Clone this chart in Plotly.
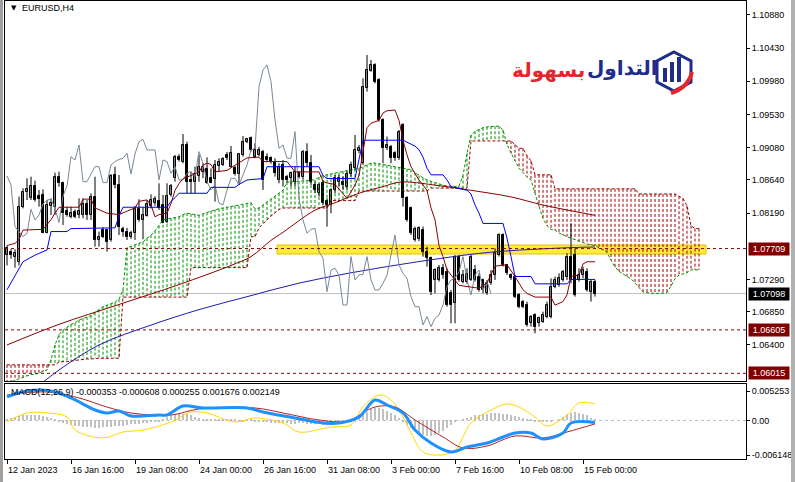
import plotly.graph_objects as go

# ---------------- data ----------------
bars = list(range(148))
opens = [1.07622,1.07667,1.07600,1.07520,1.08278,1.08482,1.08391,1.08558,1.08423,1.08436,
         1.07925,1.08287,1.08278,1.08676,1.08604,1.08219,1.08142,1.08210,1.08165,1.08165,
         1.08314,1.08165,1.08414,1.07826,1.07961,1.07961,1.07826,1.08708,1.08572,1.07970,
         1.07939,1.07871,1.07916,1.08242,1.08097,1.08151,1.08287,1.08323,1.08355,1.08300,
         1.08074,1.08436,1.08663,1.08957,1.08889,1.09115,1.08640,1.08617,1.08694,1.08753,
         1.08785,1.08663,1.08649,1.08830,1.08844,1.08980,1.08821,1.08798,1.08721,1.08980,
         1.09160,1.09206,1.08957,1.08980,1.09025,1.08957,1.08935,1.08889,1.08641,1.08844,
         1.08686,1.08663,1.08618,1.08731,1.08686,1.09025,1.08867,1.08573,1.08460,1.08595,
         1.08360,1.08301,1.08505,1.08618,1.08618,1.08550,1.08722,1.08799,1.09039,1.08867,
         1.09885,1.10125,1.10202,1.09998,1.09455,1.09070,1.09093,1.09003,1.08935,1.09387,
         1.08392,1.08256,1.07826,1.07840,1.07961,1.07667,1.07577,1.07283,1.07283,1.07441,
         1.07396,1.07102,1.06966,1.07599,1.07260,1.07260,1.07283,1.07418,1.07328,1.07283,
         1.07101,1.07237,1.07350,1.07622,1.07893,1.07486,1.07350,1.07328,1.07079,1.06989,
         1.06943,1.06694,1.06807,1.06694,1.06717,1.06785,1.06785,1.07192,1.07215,1.07283,
         1.07328,1.07599,1.07622,1.07283,1.07350,1.07396,1.07124,1.07260]
highs = [1.07749,1.07700,1.07700,1.08414,1.08527,1.08663,1.08685,1.08631,1.08504,1.08513,
         1.08368,1.08391,1.08740,1.08753,1.08617,1.08278,1.08278,1.08240,1.08391,1.08391,
         1.08368,1.08459,1.08685,1.07939,1.08000,1.07970,1.08721,1.08821,1.08708,1.08006,
         1.07990,1.07950,1.08287,1.08378,1.08269,1.08368,1.08445,1.08420,1.08595,1.08436,
         1.08595,1.08586,1.08980,1.08990,1.09264,1.09160,1.08753,1.08821,1.08980,1.08866,
         1.08948,1.08798,1.08911,1.08934,1.08950,1.09020,1.09101,1.08830,1.08993,1.09237,
         1.09210,1.09229,1.09138,1.09090,1.09048,1.09003,1.08960,1.08935,1.08867,1.08912,
         1.08710,1.08754,1.08822,1.08760,1.09048,1.09138,1.08980,1.08618,1.08595,1.08641,
         1.08392,1.08527,1.08708,1.08708,1.08686,1.08754,1.08889,1.09251,1.09116,1.10021,
         1.10337,1.10270,1.10224,1.10021,1.09478,1.09229,1.09116,1.09030,1.09319,1.09410,
         1.08420,1.08279,1.08007,1.08010,1.08007,1.07735,1.07600,1.07441,1.07486,1.07500,
         1.07441,1.07147,1.07622,1.07622,1.07418,1.07441,1.07622,1.07486,1.07373,1.07300,
         1.07283,1.07418,1.07712,1.07916,1.07916,1.07500,1.07373,1.07350,1.07101,1.07011,
         1.06989,1.06807,1.06830,1.06785,1.06853,1.06989,1.07305,1.07328,1.07373,1.07418,
         1.07645,1.08052,1.07712,1.07441,1.07464,1.07441,1.07283,1.07283]
lows = [1.07480,1.07570,1.07450,1.07480,1.08255,1.08368,1.08368,1.08346,1.08278,1.07916,
        1.07916,1.08165,1.08165,1.08549,1.08029,1.08142,1.08120,1.08120,1.08120,1.08120,
        1.08097,1.08097,1.07735,1.07735,1.07850,1.07667,1.07803,1.08527,1.07893,1.07871,
        1.07826,1.07840,1.07826,1.08074,1.07835,1.08142,1.08255,1.08290,1.08233,1.08052,
        1.08052,1.08414,1.08617,1.08890,1.08866,1.08459,1.08459,1.08459,1.08617,1.08663,
        1.08586,1.08595,1.08346,1.08753,1.08830,1.08911,1.08810,1.08700,1.08572,1.08957,
        1.09140,1.09025,1.08935,1.08960,1.08505,1.08880,1.08860,1.08686,1.08595,1.08550,
        1.08610,1.08550,1.08550,1.08660,1.08641,1.08822,1.08573,1.08460,1.08414,1.08301,
        1.08007,1.08188,1.08460,1.08550,1.08505,1.08505,1.08686,1.08776,1.09003,1.08844,
        1.09840,1.10110,1.09953,1.09432,1.08867,1.09048,1.08867,1.08900,1.08912,1.08279,
        1.08075,1.07894,1.07803,1.07810,1.07599,1.07464,1.07079,1.07101,1.07260,1.07300,
        1.06920,1.06694,1.06694,1.07260,1.07237,1.07230,1.07270,1.07260,1.07124,1.07101,
        1.07079,1.07215,1.07283,1.07600,1.07464,1.07350,1.07283,1.07034,1.06898,1.06900,
        1.06649,1.06649,1.06558,1.06649,1.06700,1.06762,1.06762,1.07170,1.07190,1.07260,
        1.07283,1.07237,1.07056,1.07260,1.07305,1.07124,1.06989,1.07056]
closes = [1.07721,1.07622,1.07650,1.08278,1.08482,1.08513,1.08558,1.08368,1.08378,1.07925,
          1.08300,1.08332,1.08676,1.08595,1.08187,1.08165,1.08187,1.08142,1.08219,1.08314,
          1.08165,1.08414,1.07826,1.07871,1.07871,1.07803,1.08694,1.08572,1.08006,1.07939,
          1.07871,1.07916,1.08242,1.08097,1.08165,1.08314,1.08368,1.08378,1.08255,1.08061,
          1.08423,1.08558,1.08957,1.08911,1.09115,1.08617,1.08617,1.08721,1.08821,1.08821,
          1.08604,1.08604,1.08844,1.08889,1.08920,1.08934,1.09002,1.08721,1.08993,1.09160,
          1.09192,1.09048,1.09048,1.09048,1.08641,1.08912,1.08889,1.08731,1.08822,1.08641,
          1.08641,1.08731,1.08754,1.08686,1.09025,1.08867,1.08618,1.08505,1.08573,1.08324,
          1.08301,1.08505,1.08663,1.08663,1.08573,1.08722,1.08844,1.09048,1.09070,1.09907,
          1.10134,1.10202,1.09975,1.09455,1.09070,1.09116,1.08935,1.08935,1.09297,1.08392,
          1.08097,1.07917,1.07970,1.07984,1.07667,1.07577,1.07124,1.07418,1.07441,1.07350,
          1.06943,1.06943,1.07599,1.07283,1.07350,1.07360,1.07599,1.07283,1.07147,1.07147,
          1.07237,1.07350,1.07645,1.07893,1.07486,1.07373,1.07305,1.07056,1.06920,1.06920,
          1.06672,1.06785,1.06649,1.06762,1.06807,1.06943,1.07192,1.07283,1.07305,1.07396,
          1.07599,1.07283,1.07079,1.07350,1.07418,1.07147,1.07260,1.07098]

# Ichimoku: Tenkan-sen / Kijun-sen (bar, price)
tenkan_x = [0,2,3,4,9,11,12,13,18,19,21,22,25,27,28,31,32,33,35,36,37,38,40,41,42,43,44,46,47,48,
            49,50,51,52,55,56,57,60,63,64,70,71,72,78,79,80,82,85,86,87,88,89,90,91,93,94,95,97,98,99,
            100,101,103,105,106,107,108,109,110,111,112,113,118,120,122,125,127,129,130,132,136,137,139,140,141,
            143,144,145,147]
tenkan_y = [1.0775,1.0778,1.0783,1.0796,1.0797,1.0810,1.0819,1.0827,1.0827,1.0838,1.0838,1.0826,1.0819,1.0817,1.0817,
            1.0824,1.0826,1.0835,1.0837,1.0830,1.0814,1.0817,1.0819,1.0832,1.0850,1.0859,1.0866,1.0870,1.0872,1.0875,
            1.0884,1.0887,1.0885,1.0875,1.0877,1.0880,1.0884,1.0894,1.0895,1.0889,1.0889,1.0882,1.0875,1.0875,1.0862,
            1.0860,1.0858,1.0839,1.0848,1.0857,1.0870,1.0900,1.0935,1.0941,1.0945,1.0955,1.0958,1.0959,1.0945,1.0918,
            1.0898,1.0882,1.0864,1.0850,1.0826,1.0810,1.0775,1.0760,1.0742,1.0735,1.0728,1.0721,1.0717,1.0724,1.0747,
            1.0749,1.0733,1.0715,1.0710,1.0705,1.0705,1.0694,1.0699,1.0708,1.0733,1.0735,1.0750,1.0753,1.0753]
kijun_x = [0,4,7,10,11,15,16,27,28,29,40,41,42,43,50,51,57,58,60,64,65,78,79,80,87,88,89,99,100,101,
           102,103,104,105,106,109,110,111,115,116,117,118,119,124,125,126,127,131,132,140,141,147]
kijun_y = [1.0715,1.0753,1.0762,1.0769,1.0794,1.0794,1.0798,1.0799,1.0815,1.0827,1.0827,1.0835,1.0840,1.0846,1.0846,
           1.0854,1.0854,1.0858,1.0864,1.0866,1.0882,1.0882,1.0870,1.0866,1.0866,1.0890,1.0918,1.0918,1.0915,1.0912,
           1.0910,1.0905,1.0895,1.0880,1.0871,1.0871,1.0864,1.0855,1.0850,1.0845,1.0830,1.0819,1.0805,1.0805,1.0785,
           1.0760,1.0733,1.0733,1.0723,1.0723,1.0729,1.0729]

# Senkou spans (one value per bar 0..173, already shifted forward)
senkou_a = [1.0590,1.0590,1.0592,1.0594,1.0596,1.0598,1.0600,1.0600,1.0602,1.0604,
            1.0606,1.0620,1.0640,
            1.0654,1.0660,1.0664,1.0668,1.0670,
            1.0674,1.0676,1.0678,1.0680,1.0684,1.0688,1.0692,1.0694,1.0696,1.0698,1.0702,
            1.0715,
            1.0772,1.0774,1.0776,1.0778,1.0780,1.0785,1.0789,1.0795,1.0802,1.0810,
            1.0811,1.0812,1.0813,1.0814,1.0817,1.0819,1.0818,1.0817,1.0816,1.0818,
            1.0820,1.0822,1.0824,1.0825,1.0826,1.0827,1.0828,1.0829,1.0829,1.0830,1.0831,
            1.0833,1.0825,1.0826,1.0830,1.0834,1.0838,1.0842,1.0846,1.0850,
            1.0861,1.0862,1.0862,1.0862,1.0863,1.0863,1.0864,1.0864,
            1.0868,1.0870,1.0871,1.0872,1.0873,1.0874,1.0876,1.0877,
            1.0878,1.0879,1.0880,1.0882,1.0885,1.0887,
            1.0887,1.0886,1.0885,1.0884,
            1.0883,1.0882,1.0881,1.0880,1.0879,1.0878,
            1.0874,1.0870,1.0867,1.0864,1.0862,
            1.0860,1.0858,1.0857,1.0856,1.0855,1.0855,1.0856,
            1.0870,1.0900,1.0925,1.0930,1.0933,1.0935,1.0936,1.0937,1.0937,1.0937,1.0932,
            1.0912,1.0900,1.0890,1.0880,1.0874,1.0868,
            1.0864,1.0845,1.0828,1.0812,1.0802,1.0797,
            1.0796,1.0792,1.0789,1.0787,1.0785,1.0783,1.0780,1.0778,1.0777,1.0776,1.0775,
            1.0772,1.0769,1.0766,1.0755,1.0746,1.0740,1.0736,1.0733,1.0730,1.0724,1.0718,1.0712,
            1.0711,1.0710,1.0710,1.0710,1.0710,1.0711,1.0720,
            1.0730,1.0735,1.0737,1.0738,1.0742,1.0742,1.0742]
senkou_b = ([1.0613] * 13 +
            [1.0617,1.0617,1.0618,1.0618,1.0619,1.0620,1.0620,1.0621,1.0621,1.0622,1.0622,1.0622,1.0622,1.0622,1.0622,1.0622] +
            [1.0705] * 17 + [1.0745] * 15 +
            [1.0787,1.0787] + [1.0799,1.0805,1.0810,1.0815,1.0820,1.0824] +
            [1.0826] * 12 + [1.0836] * 7 + [1.0849] * 18 + [1.0853] * 10 +
            [1.0917] * 11 + [1.0912,1.0907,1.0907,1.0897,1.0890] + [1.0871] * 5 +
            [1.0852] * 21 + [1.0845] * 10 + [1.0842,1.0839,1.0829,1.0802,1.0798,1.0798])

# moving averages (bar, price)
ma_red_x = [0,13,28,43,56,61,66,69,77,82,88,94,98,101,107,116,126,134,147]
ma_red_y = [1.0640,1.0668,1.0695,1.0722,1.0748,1.0760,1.0782,1.0793,1.0823,1.0833,1.0846,1.0855,1.0861,1.0861,
            1.0857,1.0850,1.0841,1.0830,1.0816]
ma_blue_x = [8,13,23,36,48,61,73,86,98,109,121,140,147]
ma_blue_y = [1.0585,1.0606,1.0640,1.0667,1.0688,1.0707,1.0724,1.0738,1.0749,1.0758,1.0766,1.0772,1.0773]

# MACD panel
macd_x = [0,5,11,16,22,25,28,31,38,40,44,49,60,64,72,79,83,88,92,95,99,102,106,111,115,120,124,127,131,134,139,141,147]
macd_v = [0.00419,0.00525,0.00525,0.00401,0.00187,0.00134,0.00169,0.00080,0.00098,0.00098,0.00258,0.00223,0.00223,
          0.00151,0.00045,-0.00045,-0.00045,0.00062,0.00365,0.00276,0.00134,-0.00169,-0.00401,-0.00561,-0.00472,
          -0.00401,-0.00294,-0.00223,-0.00223,-0.00329,-0.00223,-0.00045,-0.000353]
signal_x = [0,10,18,25,31,41,48,62,69,78,85,92,97,102,109,114,120,127,134,140,147]
signal_v = [0.00454,0.00508,0.00401,0.00240,0.00134,0.00098,0.00205,0.00223,0.00134,0.00009,-0.00009,0.00240,
            0.00240,0.00009,-0.00294,-0.00490,-0.00454,-0.00276,-0.00312,-0.00205,-0.000608]
yellow_x = [0,5,10,15,17,24,29,34,41,46,50,57,62,69,73,81,86,89,93,96,99,101,104,108,112,116,121,125,128,132,135,140,143,147]
yellow_v = [-0.00027,0.00134,0.00134,0.00062,-0.00169,-0.00312,-0.00205,-0.00169,-0.00027,0.00151,0.00134,-0.00027,
            0.00045,-0.00045,-0.00205,-0.00116,-0.00080,0.00240,0.00454,0.00365,0.00062,-0.00223,-0.00561,-0.00615,
            -0.00526,-0.00045,0.00187,0.00294,0.00240,0.00062,-0.00098,0.00098,0.00312,0.00294]
hist = ([0.0002,0.0004] +
        [0.0006,0.0008,0.0009,0.0010,0.0010,0.0009,0.0009,0.0008,0.0007,0.0005,0.0003] +
        [-0.0002,-0.0004,-0.0006,-0.0008,-0.0009,-0.0010,-0.0011,-0.0012,-0.0012,-0.0013,-0.0013,-0.0012,-0.0012,
         -0.0011,-0.0010,-0.0010,-0.0009,-0.0008,-0.0007,-0.0007,-0.0006,-0.0005,-0.0004,-0.0003,-0.0002,-0.0001] +
        [0.0003,0.0006,0.0009,0.0011,0.0012,0.0012,0.0011,0.0009,0.0007,0.0004] +
        [0.0002,0.0001,0.0001,0.0002,0.0002,0.0001,0.0001,0.0002,0.0001,-0.0001,-0.0001,0.0001,0.0001,-0.0001,-0.0002,-0.0002] +
        [-0.0003,-0.0004,-0.0004,-0.0005,-0.0005,-0.0005,-0.0006,-0.0006,-0.0005,-0.0005,-0.0006] +
        [-0.0006,-0.0007,-0.0007,-0.0008,-0.0008,-0.0008,-0.0007,-0.0007,-0.0006,-0.0005,-0.0003,-0.0001] +
        [0.0004,0.0010,0.0016,0.0021,0.0023,0.0022,0.0020,0.0017,0.0013,0.0009,0.0004] +
        [-0.0002,-0.0008,-0.0014,-0.0019,-0.0023,-0.0026,-0.0027,-0.0027,-0.0025,-0.0022,-0.0018,-0.0013,-0.0008] +
        [-0.0003,0.0000,0.0003] +
        [0.0005,0.0007,0.0009,0.0010,0.0011,0.0012,0.0013,0.0013,0.0013,0.0012,0.0011,0.0010,0.0008,0.0007,0.0005,0.0003,0.0001] +
        [-0.0001,-0.0002,-0.0003,-0.0003,-0.0002,0.0000] +
        [0.0003,0.0007,0.0011,0.0014,0.0015,0.0014,0.0012,0.0009,0.0005,0.000255])

macd_label = "MACD(12,26,9) -0.000353 -0.000608 0.000255 0.001676 0.002149"

price_ticks = [1.10880,1.10430,1.09980,1.09530,1.09080,1.08640,1.08190,1.07290,1.06850,1.06400]
red_levels = [1.07709, 1.06605, 1.06015]
bid_level = 1.07098
zone_low, zone_high = 1.07635, 1.07757
zone_start, zone_end = 67.5, 174.75

date_ticks = [0,16,32,48,64,80,96,112,128,144]
date_labels = ["12 Jan 2023","16 Jan 16:00","19 Jan 08:00","24 Jan 00:00","26 Jan 16:00",
               "31 Jan 08:00","3 Feb 00:00","7 Feb 16:00","10 Feb 08:00","15 Feb 00:00"]

# ---------------- layout helpers ----------------
W, H = 795, 482
ML, MR, MT, MB = 5, 49, 1, 23
PW, PH = W - ML - MR, H - MT - MB
def px(x): return (x - ML) / PW
def py(y): return 1 - (y - MT) / PH

DARKRED = '#8B0000'
FONT = 'Liberation Sans'

fig = go.Figure()

# cloud hatch
gx, gy, rx, ry = [], [], [], []
for b, (a, s) in enumerate(zip(senkou_a, senkou_b)):
    if a >= s:
        gx += [b, b, None]; gy += [a, s, None]
    else:
        rx += [b, b, None]; ry += [s, a, None]
fig.add_trace(go.Scatter(x=gx, y=gy, mode='lines', line=dict(color='#009000', width=1, dash='3px,2px'), hoverinfo='skip'))
fig.add_trace(go.Scatter(x=rx, y=ry, mode='lines', line=dict(color='#A00000', width=1, dash='3px,2px'), hoverinfo='skip'))
cloud_x = list(range(len(senkou_a)))
fig.add_trace(go.Scatter(x=cloud_x, y=senkou_a, mode='lines', line=dict(color='#009000', width=1, dash='3px,2px')))
fig.add_trace(go.Scatter(x=cloud_x, y=senkou_b, mode='lines', line=dict(color='#A00000', width=1, dash='3px,2px')))

# candles
wx, wy = [], []
for b, h, l in zip(bars, highs, lows):
    wx += [b, b, None]; wy += [l, h, None]
fig.add_trace(go.Scatter(x=wx, y=wy, mode='lines', line=dict(color='black', width=1), hoverinfo='skip'))
body_base = [min(o, c) for o, c in zip(opens, closes)]
body_h = [max(abs(c - o), 0.00002) for o, c in zip(opens, closes)]
body_col = ['white' if c >= o else 'black' for o, c in zip(opens, closes)]
fig.add_trace(go.Bar(x=bars, y=body_h, base=body_base, width=0.55,
                     marker=dict(color=body_col, line=dict(color='black', width=1))))

# indicator lines
fig.add_trace(go.Scatter(x=ma_red_x, y=ma_red_y, mode='lines', line=dict(color=DARKRED, width=1, shape='spline')))
fig.add_trace(go.Scatter(x=ma_blue_x, y=ma_blue_y, mode='lines', line=dict(color='#1C1CB4', width=1, shape='spline')))
fig.add_trace(go.Scatter(x=bars[:len(closes) - 26], y=closes[26:], mode='lines', line=dict(color='#778899', width=1)))
fig.add_trace(go.Scatter(x=tenkan_x, y=tenkan_y, mode='lines', line=dict(color=DARKRED, width=1)))
fig.add_trace(go.Scatter(x=kijun_x, y=kijun_y, mode='lines', line=dict(color='#0000FF', width=1)))

# MACD panel
fig.add_trace(go.Bar(x=bars, y=hist, width=0.5, marker=dict(color='#C0C0C0', line=dict(width=0)),
                     xaxis='x2', yaxis='y2'))
fig.add_trace(go.Scatter(x=yellow_x, y=yellow_v, mode='lines', line=dict(color='#FFD700', width=1, shape='spline'),
                         xaxis='x2', yaxis='y2'))
fig.add_trace(go.Scatter(x=signal_x, y=signal_v, mode='lines', line=dict(color='#B22222', width=1, shape='spline'),
                         xaxis='x2', yaxis='y2'))
fig.add_trace(go.Scatter(x=macd_x, y=macd_v, mode='lines', line=dict(color='#1E90FF', width=3, shape='spline'),
                         xaxis='x2', yaxis='y2'))

shapes = []
shapes.append(dict(type='rect', xref='x', yref='y', x0=zone_start, x1=zone_end, y0=zone_low, y1=zone_high,
                   fillcolor='#FFEB3B', line=dict(color='#E8C000', width=1), layer='below'))
shapes.append(dict(type='line', xref='paper', yref='y', x0=0, x1=1, y0=bid_level, y1=bid_level,
                   line=dict(color='#C0C0C0', width=1), layer='below'))
for lv in red_levels:
    shapes.append(dict(type='line', xref='paper', yref='y', x0=0, x1=1, y0=lv, y1=lv,
                       line=dict(color=DARKRED, width=1, dash='3px,3px')))
shapes.append(dict(type='line', xref='paper', yref='y2', x0=0, x1=1, y0=0, y1=0,
                   line=dict(color='#C0C0C0', width=1, dash='3px,3px'), layer='below'))
shapes.append(dict(type='rect', xref='paper', yref='paper', x0=px(0), x1=px(3), y0=py(482), y1=py(0),
                   fillcolor='#A0A0A0', line=dict(width=0)))
shapes.append(dict(type='rect', xref='paper', yref='paper', x0=px(791), x1=px(795), y0=py(482), y1=py(0),
                   fillcolor='#B0B0B0', line=dict(width=0)))
# logo icon
LB, LR = '#1E2C8C', '#E3262B'
hexpath = 'M {} {} L {} {} L {} {} L {} {} L {} {} L {} {} Z'.format(
    px(674), py(52), px(691), py(61), px(691), py(82), px(674), py(91), px(657), py(82), px(657), py(61))
shapes.append(dict(type='path', xref='paper', yref='paper', path=hexpath, line=dict(color=LB, width=3), fillcolor='white'))
for (x0, x1, y0) in [(663, 667, 68), (670, 674, 62), (677, 681, 57)]:
    shapes.append(dict(type='rect', xref='paper', yref='paper', x0=px(x0), x1=px(x1), y0=py(82), y1=py(y0),
                       fillcolor=LB, line=dict(width=0)))
swoosh = 'M {} {} Q {} {} {} {}'.format(px(692), py(72), px(688), py(88), px(671), py(93))
shapes.append(dict(type='path', xref='paper', yref='paper', path=swoosh, line=dict(color=LR, width=4)))

ann = []
ann.append(dict(xref='paper', yref='paper', x=px(9), y=py(8), text='▼', showarrow=False, xanchor='left',
                yanchor='middle', font=dict(family='DejaVu Sans', size=7, color='black')))
ann.append(dict(xref='paper', yref='paper', x=px(20), y=py(8), text='EURUSD,H4', showarrow=False, xanchor='left',
                yanchor='middle', font=dict(family=FONT, size=9, color='black')))
ann.append(dict(xref='paper', yref='paper', x=px(9), y=py(392), text=macd_label, showarrow=False, xanchor='left',
                yanchor='middle', font=dict(family=FONT, size=9, color='black')))
for t, lab in zip(date_ticks, date_labels):
    ann.append(dict(xref='x2', yref='paper', x=t, y=0, text=lab, showarrow=False, xanchor='left', yanchor='top',
                    xshift=-1, yshift=-4, font=dict(family=FONT, size=9, color='black')))
for lv, col in [(1.07709, '#800000'), (1.06605, '#800000'), (1.06015, '#800000'), (bid_level, '#000000')]:
    ann.append(dict(xref='paper', yref='y', x=1, y=lv, text='{:.5f}'.format(lv), showarrow=False,
                    xanchor='left', yanchor='middle', xshift=2, bgcolor=col, width=38, height=10, borderpad=1,
                    font=dict(family=FONT, size=9, color='white')))
ann.append(dict(xref='paper', yref='paper', x=px(548), y=py(70), text='<b>بسهولة</b>', showarrow=False,
                xanchor='center', yanchor='middle', font=dict(family='DejaVu Sans', size=20, color=LR)))
ann.append(dict(xref='paper', yref='paper', x=px(622), y=py(68), text='<b>التداول</b>', showarrow=False,
                xanchor='center', yanchor='middle', font=dict(family='DejaVu Sans', size=20, color=LB)))

axis_common = dict(showgrid=False, zeroline=False, showline=True, mirror=True, linecolor='black', linewidth=1,
                   automargin=False)
fig.update_layout(
    width=W, height=H, margin=dict(l=ML, r=MR, t=MT, b=MB, autoexpand=False),
    paper_bgcolor='white', plot_bgcolor='white', showlegend=False,
    barmode='overlay', bargap=0,
    xaxis=dict(domain=[0, 1], anchor='y', range=[-0.5, 184.75], showticklabels=False, ticks='',
               matches='x2', **axis_common),
    yaxis=dict(domain=[py(381), 1], anchor='x', range=[1.05911, 1.11070], side='right',
               tickvals=price_ticks, ticktext=['{:.5f}'.format(v) for v in price_ticks],
               ticks='outside', ticklen=3, tickcolor='black',
               tickfont=dict(family=FONT, size=9, color='black'), **axis_common),
    xaxis2=dict(domain=[0, 1], anchor='y2', range=[-0.5, 184.75], tickvals=date_ticks, ticks='outside',
                ticklen=4, tickcolor='black', showticklabels=False, **axis_common),
    yaxis2=dict(domain=[0, py(384)], anchor='x2', range=[-0.00686, 0.0065], side='right',
                tickvals=[0.005253, 0, -0.006148], ticktext=['0.005253', '0.00', '-0.006148'],
                ticks='outside', ticklen=3, tickcolor='black',
                tickfont=dict(family=FONT, size=9, color='black'), **axis_common),
    shapes=shapes, annotations=ann,
)
fig.write_html("out.html", config={'displayModeBar': False},
               post_script="document.body.style.margin='0';document.body.style.overflow='hidden';")
